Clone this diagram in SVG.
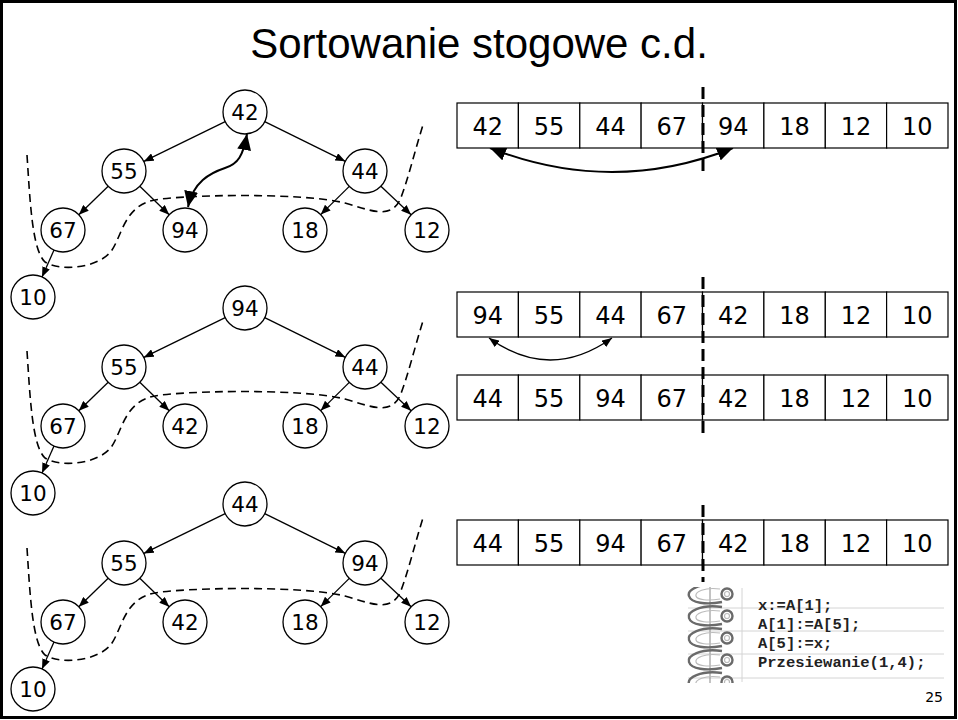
<svg xmlns="http://www.w3.org/2000/svg" width="958" height="720" viewBox="0 0 958 720">
<style>
.node circle{fill:#fff;stroke:#000;stroke-width:1.3}
.nt{font-family:"DejaVu Sans",Verdana,sans-serif;font-size:21.5px;text-anchor:middle;fill:#000}
.at{font-family:"DejaVu Sans",Verdana,sans-serif;font-size:24px;text-anchor:middle;fill:#000}
.cell{fill:#fff;stroke:#000;stroke-width:1.2}
.edge{stroke:#000;stroke-width:1.3;fill:none;marker-end:url(#ah)}
.heap{stroke:#000;stroke-width:1.6;fill:none;stroke-dasharray:8 5}
.split{stroke:#000;stroke-width:3;fill:none;stroke-dasharray:12 6}
.code{font-family:"Liberation Mono","Courier New",monospace;font-size:15.5px;font-weight:bold;fill:#222}
.ring{fill:none;stroke:#6a6a6a;stroke-width:2.4}
.ringi{fill:none;stroke:#bbb;stroke-width:1.2}
</style>
<defs>
<marker id="ah" viewBox="0 0 10 8" refX="10" refY="4" markerWidth="10" markerHeight="8" markerUnits="userSpaceOnUse" orient="auto"><path d="M0,0 L10,4 L0,8 z" fill="#000"/></marker>
<marker id="big" viewBox="0 0 16 14" refX="16" refY="7" markerWidth="16" markerHeight="14" markerUnits="userSpaceOnUse" orient="auto-start-reverse"><path d="M0,0 L16,7 L0,14 z" fill="#000"/></marker>
<marker id="sm" viewBox="0 0 10 8" refX="10" refY="4" markerWidth="10" markerHeight="8" markerUnits="userSpaceOnUse" orient="auto-start-reverse"><path d="M0,0 L10,4 L0,8 z" fill="#000"/></marker>
<path id="heapcurve" d="M27 155 C30 200 32 250 45 262 C60 272 100 268 112 250 C122 235 125 205 155 200 C180 195 300 192 345 203 C370 210 390 220 400 200 C408 180 415 150 423 125"/>
<clipPath id="ringclip"><rect x="684" y="587" width="62" height="96"/></clipPath>
<g id="ring1">
<path class="ring" d="M722 -9 C700 -12 687 -4 689 2 C691 9 706 11 722 8"/>
<path class="ringi" d="M720 -5 C704 -7 695 -2 696 2 C697 6 708 7 720 5"/>
<circle class="ring" cx="727" cy="0" r="5.5"/>
<circle class="ringi" cx="727" cy="0" r="2.5"/>
</g>
</defs>
<rect x="1.5" y="1.5" width="954" height="716" fill="#fff" stroke="#000" stroke-width="3"/>
<text x="479" y="58" font-family="Liberation Sans,Arial,sans-serif" font-size="42" text-anchor="middle">Sortowanie stogowe c.d.</text>

<g id="connectors">
<g id="t1-edges">
<path class="edge" d="M225.2 121.6 L143.8 161.4"/><path class="edge" d="M264.7 121.7 L345.3 161.3"/>
<path class="edge" d="M108.2 186.3 L78.8 214.7"/><path class="edge" d="M139.8 186.3 L169.2 214.7"/>
<path class="edge" d="M349.3 186.4 L320.7 214.6"/><path class="edge" d="M380.9 186.2 L411.1 214.8"/>
<path class="edge" d="M54 250.1 L42 276.9"/>
</g>
<g id="t2-edges" transform="translate(0,196)">
<path class="edge" d="M225.2 121.6 L143.8 161.4"/><path class="edge" d="M264.7 121.7 L345.3 161.3"/>
<path class="edge" d="M108.2 186.3 L78.8 214.7"/><path class="edge" d="M139.8 186.3 L169.2 214.7"/>
<path class="edge" d="M349.3 186.4 L320.7 214.6"/><path class="edge" d="M380.9 186.2 L411.1 214.8"/>
<path class="edge" d="M54 250.1 L42 276.9"/>
</g>
<g id="t3-edges" transform="translate(0,392)">
<path class="edge" d="M225.2 121.6 L143.8 161.4"/><path class="edge" d="M264.7 121.7 L345.3 161.3"/>
<path class="edge" d="M108.2 186.3 L78.8 214.7"/><path class="edge" d="M139.8 186.3 L169.2 214.7"/>
<path class="edge" d="M349.3 186.4 L320.7 214.6"/><path class="edge" d="M380.9 186.2 L411.1 214.8"/>
<path class="edge" d="M54 250.1 L42 276.9"/>
</g>
<use href="#heapcurve" class="heap"/>
<use href="#heapcurve" class="heap" transform="translate(0,196)"/>
<use href="#heapcurve" class="heap" transform="translate(0,393)"/>
<path d="M188 207 C193 182 210 173 225 168 C238 164 243 156 247 134" fill="none" stroke="#000" stroke-width="2" marker-start="url(#big)" marker-end="url(#big)"/>
<path d="M490 148 Q612 196 733 148" fill="none" stroke="#000" stroke-width="2" marker-start="url(#big)" marker-end="url(#big)"/>
<path d="M489 338 Q550 382 612 338" fill="none" stroke="#000" stroke-width="1.3" marker-start="url(#sm)" marker-end="url(#sm)"/>
</g>

<g id="tree1">
<g id="t1-n42" class="node"><circle cx="245" cy="112" r="22"/><text class="nt" x="245" y="119.8">42</text></g>
<g id="t1-n55" class="node"><circle cx="124" cy="171" r="22"/><text class="nt" x="124" y="178.8">55</text></g>
<g id="t1-n44" class="node"><circle cx="365" cy="171" r="22"/><text class="nt" x="365" y="178.8">44</text></g>
<g id="t1-n67" class="node"><circle cx="63" cy="230" r="22"/><text class="nt" x="63" y="237.8">67</text></g>
<g id="t1-n94" class="node"><circle cx="185" cy="230" r="22"/><text class="nt" x="185" y="237.8">94</text></g>
<g id="t1-n18" class="node"><circle cx="305" cy="230" r="22"/><text class="nt" x="305" y="237.8">18</text></g>
<g id="t1-n12" class="node"><circle cx="427" cy="230" r="22"/><text class="nt" x="427" y="237.8">12</text></g>
<g id="t1-n10" class="node"><circle cx="33" cy="297" r="22"/><text class="nt" x="33" y="304.8">10</text></g>
</g>
<g id="tree2" transform="translate(0,196)">
<g id="t2-n94" class="node"><circle cx="245" cy="112" r="22"/><text class="nt" x="245" y="119.8">94</text></g>
<g id="t2-n55" class="node"><circle cx="124" cy="171" r="22"/><text class="nt" x="124" y="178.8">55</text></g>
<g id="t2-n44" class="node"><circle cx="365" cy="171" r="22"/><text class="nt" x="365" y="178.8">44</text></g>
<g id="t2-n67" class="node"><circle cx="63" cy="230" r="22"/><text class="nt" x="63" y="237.8">67</text></g>
<g id="t2-n42" class="node"><circle cx="185" cy="230" r="22"/><text class="nt" x="185" y="237.8">42</text></g>
<g id="t2-n18" class="node"><circle cx="305" cy="230" r="22"/><text class="nt" x="305" y="237.8">18</text></g>
<g id="t2-n12" class="node"><circle cx="427" cy="230" r="22"/><text class="nt" x="427" y="237.8">12</text></g>
<g id="t2-n10" class="node"><circle cx="33" cy="297" r="22"/><text class="nt" x="33" y="304.8">10</text></g>
</g>
<g id="tree3" transform="translate(0,392)">
<g id="t3-n44" class="node"><circle cx="245" cy="112" r="22"/><text class="nt" x="245" y="119.8">44</text></g>
<g id="t3-n55" class="node"><circle cx="124" cy="171" r="22"/><text class="nt" x="124" y="178.8">55</text></g>
<g id="t3-n94" class="node"><circle cx="365" cy="171" r="22"/><text class="nt" x="365" y="178.8">94</text></g>
<g id="t3-n67" class="node"><circle cx="63" cy="230" r="22"/><text class="nt" x="63" y="237.8">67</text></g>
<g id="t3-n42" class="node"><circle cx="185" cy="230" r="22"/><text class="nt" x="185" y="237.8">42</text></g>
<g id="t3-n18" class="node"><circle cx="305" cy="230" r="22"/><text class="nt" x="305" y="237.8">18</text></g>
<g id="t3-n12" class="node"><circle cx="427" cy="230" r="22"/><text class="nt" x="427" y="237.8">12</text></g>
<g id="t3-n10" class="node"><circle cx="33" cy="297" r="22"/><text class="nt" x="33" y="304.8">10</text></g>
</g>

<g id="array1">
<rect class="cell" x="457" y="103" width="61.4" height="45"/><rect class="cell" x="518.4" y="103" width="61.4" height="45"/><rect class="cell" x="579.8" y="103" width="61.4" height="45"/><rect class="cell" x="641.1" y="103" width="61.4" height="45"/><rect class="cell" x="702.5" y="103" width="61.4" height="45"/><rect class="cell" x="763.9" y="103" width="61.4" height="45"/><rect class="cell" x="825.3" y="103" width="61.4" height="45"/><rect class="cell" x="886.6" y="103" width="61.4" height="45"/>
<text class="at" y="134.5"><tspan x="487.7">42</tspan><tspan x="549.1">55</tspan><tspan x="610.4">44</tspan><tspan x="671.8">67</tspan><tspan x="733.2">94</tspan><tspan x="794.6">18</tspan><tspan x="856">12</tspan><tspan x="917.3">10</tspan></text>
</g>
<g id="array2">
<rect class="cell" x="457" y="292" width="61.4" height="45"/><rect class="cell" x="518.4" y="292" width="61.4" height="45"/><rect class="cell" x="579.8" y="292" width="61.4" height="45"/><rect class="cell" x="641.1" y="292" width="61.4" height="45"/><rect class="cell" x="702.5" y="292" width="61.4" height="45"/><rect class="cell" x="763.9" y="292" width="61.4" height="45"/><rect class="cell" x="825.3" y="292" width="61.4" height="45"/><rect class="cell" x="886.6" y="292" width="61.4" height="45"/>
<text class="at" y="323.5"><tspan x="487.7">94</tspan><tspan x="549.1">55</tspan><tspan x="610.4">44</tspan><tspan x="671.8">67</tspan><tspan x="733.2">42</tspan><tspan x="794.6">18</tspan><tspan x="856">12</tspan><tspan x="917.3">10</tspan></text>
</g>
<g id="array3">
<rect class="cell" x="457" y="375" width="61.4" height="45"/><rect class="cell" x="518.4" y="375" width="61.4" height="45"/><rect class="cell" x="579.8" y="375" width="61.4" height="45"/><rect class="cell" x="641.1" y="375" width="61.4" height="45"/><rect class="cell" x="702.5" y="375" width="61.4" height="45"/><rect class="cell" x="763.9" y="375" width="61.4" height="45"/><rect class="cell" x="825.3" y="375" width="61.4" height="45"/><rect class="cell" x="886.6" y="375" width="61.4" height="45"/>
<text class="at" y="406.5"><tspan x="487.7">44</tspan><tspan x="549.1">55</tspan><tspan x="610.4">94</tspan><tspan x="671.8">67</tspan><tspan x="733.2">42</tspan><tspan x="794.6">18</tspan><tspan x="856">12</tspan><tspan x="917.3">10</tspan></text>
</g>
<g id="array4">
<rect class="cell" x="457" y="520" width="61.4" height="45"/><rect class="cell" x="518.4" y="520" width="61.4" height="45"/><rect class="cell" x="579.8" y="520" width="61.4" height="45"/><rect class="cell" x="641.1" y="520" width="61.4" height="45"/><rect class="cell" x="702.5" y="520" width="61.4" height="45"/><rect class="cell" x="763.9" y="520" width="61.4" height="45"/><rect class="cell" x="825.3" y="520" width="61.4" height="45"/><rect class="cell" x="886.6" y="520" width="61.4" height="45"/>
<text class="at" y="551.5"><tspan x="487.7">44</tspan><tspan x="549.1">55</tspan><tspan x="610.4">94</tspan><tspan x="671.8">67</tspan><tspan x="733.2">42</tspan><tspan x="794.6">18</tspan><tspan x="856">12</tspan><tspan x="917.3">10</tspan></text>
</g>

<g id="splits">
<path class="split" d="M703 87 V172"/>
<path class="split" d="M703 277 V436"/>
<path class="split" d="M703 505 V582"/>
</g>

<g id="code">
<g stroke="#d4d4d4" stroke-width="1">
<path d="M688 608 H944 M688 631 H944 M688 654 H944 M688 678 H944"/>
<path d="M742 588 V682"/>
</g>
<g clip-path="url(#ringclip)">
<path d="M710 586 V684" stroke="#888" stroke-width="1"/>
<use href="#ring1" transform="translate(0,594)"/>
<use href="#ring1" transform="translate(0,616)"/>
<use href="#ring1" transform="translate(0,638)"/>
<use href="#ring1" transform="translate(0,660)"/>
<use href="#ring1" transform="translate(0,682)"/>
</g>
<text class="code" x="758" y="610">x:=A[1];</text>
<text class="code" x="758" y="629">A[1]:=A[5];</text>
<text class="code" x="758" y="648">A[5]:=x;</text>
<text class="code" x="758" y="667">Przesiewanie(1,4);</text>
</g>
<text x="943" y="702" font-family="DejaVu Sans,Verdana,sans-serif" font-size="14" text-anchor="end">25</text>
</svg>
